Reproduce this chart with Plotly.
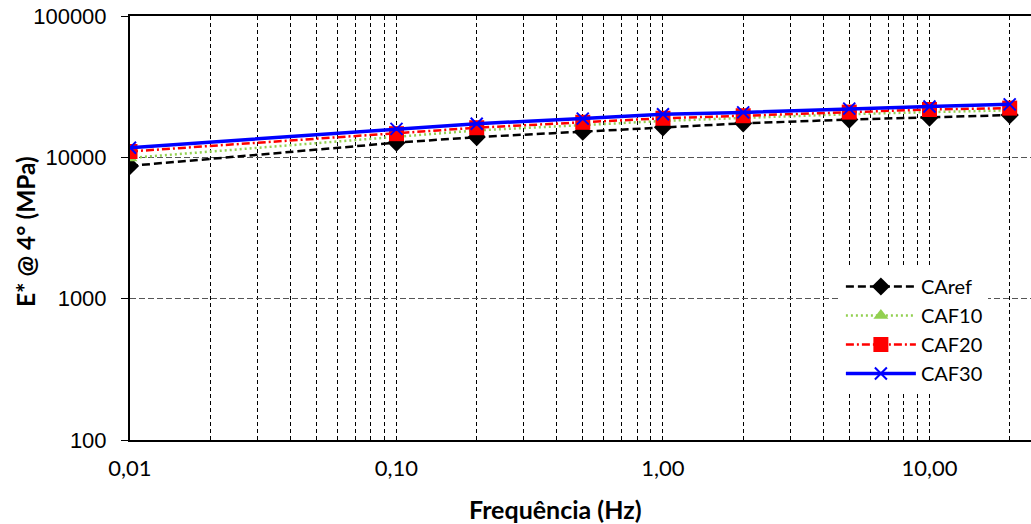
import plotly.graph_objects as go

freq = [0.01, 0.1, 0.2, 0.5, 1, 2, 5, 10, 20]
caref = [8700, 12700, 13900, 15200, 16300, 17400, 18500, 19100, 19900]
caf10 = [9900, 14000, 15500, 16900, 18100, 19000, 20200, 20900, 21500]
caf20 = [11000, 14700, 16200, 17700, 18900, 19700, 20900, 21800, 22300]
caf30 = [11700, 15900, 17300, 18800, 20200, 20800, 22100, 22900, 23700]

x_major = [0.01, 0.1, 1, 10]
x_major_text = ["0,01", "0,10", "1,00", "10,00"]
x_minor = [m * d for d in [0.01, 0.1, 1, 10] for m in range(2, 10)]
y_ticks = [100, 1000, 10000, 100000]
y_text = ["100", "1000", "10000", "100000"]

CAL = "Lato, Open Sans, sans-serif"

fig = go.Figure()
fig.add_trace(go.Scatter(
    x=freq, y=caref, name="CAref", mode="lines+markers",
    line=dict(color="black", width=2.5, dash="8px,4px"),
    marker=dict(symbol="diamond", size=14, color="black")))
fig.add_trace(go.Scatter(
    x=freq, y=caf10, name="CAF10", mode="lines+markers",
    line=dict(color="#92D050", width=2.5, dash="2px,3px"),
    marker=dict(symbol="triangle-up", size=13, color="#92D050")))
fig.add_trace(go.Scatter(
    x=freq, y=caf20, name="CAF20", mode="lines+markers",
    line=dict(color="#FF0000", width=2.5, dash="8px,3px,2px,3px"),
    marker=dict(symbol="square", size=15, color="#FF0000")))
fig.add_trace(go.Scatter(
    x=freq, y=caf30, name="CAF30", mode="lines+markers",
    line=dict(color="#0000FF", width=3.5),
    marker=dict(symbol="x-thin", size=12, color="#0000FF",
                line=dict(color="#0000FF", width=2))))

fig.update_layout(
    width=1031, height=524,
    margin=dict(l=130, r=0, t=16, b=84),
    plot_bgcolor="white", paper_bgcolor="white",
    showlegend=True,
    legend=dict(
        x=0.789, y=0.408, xanchor="left", yanchor="top",
        bgcolor="white", borderwidth=0,
        font=dict(family=CAL, size=20, color="black"),
        itemwidth=70,
    ),
    xaxis=dict(
        type="log", range=[-2, 1.381], automargin=False,
        tickvals=x_major, ticktext=x_major_text,
        tickfont=dict(family=CAL, size=22, color="black"),
        ticklabelstandoff=8,
        ticks="", showline=True, linecolor="black", linewidth=2,
        mirror=True,
        showgrid=True, gridcolor="black", gridwidth=1, griddash="4px,3px",
        minor=dict(tickvals=x_minor, showgrid=True, gridcolor="black",
                   gridwidth=1, griddash="4px,3px", ticks=""),
        zeroline=False,
    ),
    yaxis=dict(
        type="log", range=[2, 5], automargin=False,
        tickvals=y_ticks, ticktext=y_text,
        tickfont=dict(family="Liberation Sans, Arial, sans-serif", size=22, color="black"),
        ticks="outside", ticklen=7, tickcolor="black", tickwidth=1,
        ticklabelstandoff=10,
        showline=True, linecolor="black", linewidth=2,
        showgrid=True, gridcolor="#555555", gridwidth=1, griddash="6px,3px",
        zeroline=False,
    ),
    annotations=[
        dict(text="<b>Frequência (Hz)</b>", xref="paper", yref="paper",
             x=(555 - 130) / 901, y=(440 - 509) / 424,
             xanchor="center", yanchor="middle", showarrow=False,
             font=dict(family=CAL, size=25, color="black")),
        dict(text="<b>E* @ 4° (MPa)</b>", xref="paper", yref="paper",
             x=(25 - 130) / 901, y=(440 - 232) / 424, textangle=-90,
             xanchor="center", yanchor="middle", showarrow=False,
             font=dict(family=CAL, size=24.5, color="black")),
    ],
)

fig.write_html("out.html", config={"displayModeBar": False},
               post_script="document.body.style.margin='0';")
